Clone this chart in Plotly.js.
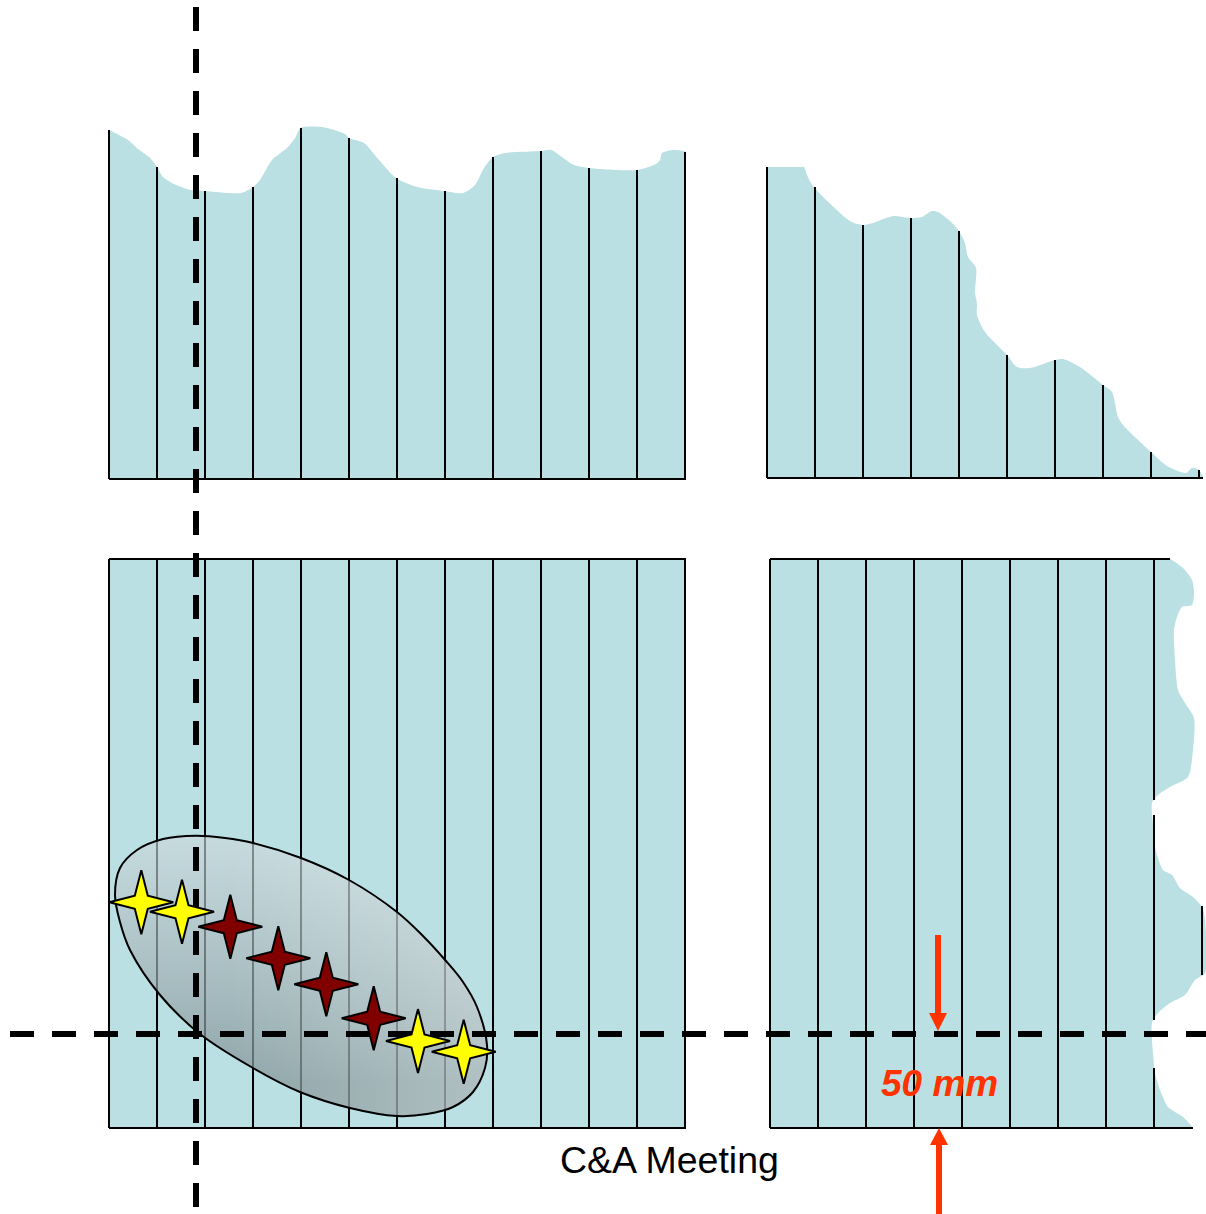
<!DOCTYPE html>
<html>
<head>
<meta charset="utf-8">
<script src="https://cdn.plot.ly/plotly-3.0.1.min.js"></script>
<style>html,body{margin:0;padding:0;background:#fff}#chart{width:1206px;height:1214px}</style>
</head>
<body>
<div id="chart"></div>
<script>
// The axes run in picture units.
var tlEdgeX = [109,115,128,138,149,156.5,163,176,191,205,241,253,260,272,287,295,300.5,322,345,349,364,379,396,417,444,463,475,484,493,505,541,551,574,589,637,656,660,662,674,686];
var tlEdgeY = [130,133,140,149,157,166,177,185,190,191,193,187,180,160,148,138,128,127,134,138,143,160,178,187,191,193,185,168,157,153,151,150,165,168,170,164,160,153,150,152];
var tlBase = 479;
var tlLineX = [109,157,205,253,301,349,397,445,493,541,589,637,685];
var tlLineTop = [130,167,191,187,128,138,178,191,157,151,168,170,152];

var trEdgeX = [767,769,802,804,807,813,850,863,873,893,911,922,932,938,950,959,965,968,976,975,977,977,985,1007,1017,1030,1055,1063,1080,1103,1112,1118,1123,1151,1167,1186,1192,1198,1203];
var trEdgeY = [167,167,167,167,175,186,221,225,223,216,218,217,211,212,221,231,243,257,268,293,303,315,332,355,367,368,360,359,367,385,392,417,425,452,466,473,468,469,477];
var trBase = 478;
var trLineX = [767,815,863,911,959,1007,1055,1103,1151,1199];
var trLineTop = [167,187,225,218,231,355,360,385,452,470];

var blLeft = 109, blRight = 686, lowTop = 559, lowBase = 1128;
var blLineX = [109,157,205,253,301,349,397,445,493,541,589,637,685];

var brEdgeX = [770,772,1168,1170,1183,1192,1194,1192,1182,1177,1174,1175,1178,1185,1194,1193,1188,1170,1158,1152,1154,1155,1163,1172,1180,1193,1202,1205,1205,1195,1185,1170,1158,1152,1153,1155,1160,1168,1183,1193,1191,772,770,770,770];
var brEdgeY = [559,559,559,559,568,580,592,605,607,617,630,660,690,703,718,750,777,787,795,803,833,847,870,875,888,897,907,920,973,980,995,1003,1013,1023,1053,1073,1090,1107,1117,1128,1128,1128,1128,1126,561];
var brLineX = [770,818,866,914,962,1010,1058,1106];
var brSegX = [1154,1154,1154,1202];
var brSegTop = [559,815,1068,906];
var brSegEnd = [800,1020,1128,975];
var brTopEnd = 1170, brBaseEnd = 1193, brLeft = 770;

var ovalX = [196,225,253,301,349,397,422,446,463,477,487,485,473,453,427,397,350,300,253,200,160,130,120,115,120,137,163,196];
var ovalY = [835.7,838,843,858,880,912,935,961,982,1007,1045,1068,1092,1107,1114,1116,1108,1092,1068,1034,995,950,922,895,868,850,839,835.7];

var dashHX = [10,1206], dashHY = [1034,1034];
var dashVX = [196,196], dashVY = [7,1208];

var yellowStarX = [141.3,182,418,463.7];
var yellowStarY = [902.3,911.7,1041,1051.7];
var redStarX = [230.3,278.3,326.3,373.7];
var redStarY = [926.7,958.3,984.3,1018.3];
var starDX = [0,6.5,32,6.5,0,-6.5,-32,-6.5,0];
var starDY = [-32,-6.5,0,6.5,32,6.5,0,-6.5,-32];

var downShaftX = [938,938], downShaftY = [935,1014];
var downHeadX = [929,947,938,929], downHeadY = [1013,1013,1031,1013];
var upShaftX = [939,939], upShaftY = [1144,1214];
var upHeadX = [930,948,939,930], upHeadY = [1145,1145,1128,1145];

var captionText = 'C&amp;A Meeting', captionX = 669, captionY = 1160;
var sizeText = '<b><i>50 mm</i></b>', sizeX = 939.5, sizeY = 1083;

var LINE = '#000000', PANEL = '#bbe0e3', ARROW = '#ff3300';

function closedPanel(xs, ys, base) {
  var xe = xs[xs.length-1], x0 = xs[0], ye = ys[ys.length-1], y0 = ys[0];
  return {
    x: xs.concat([xe, xe, xe, xe-2, x0+2, x0, x0, x0, x0]),
    y: ys.concat([ye+4, base-2, base, base, base, base, base-2, y0+4, y0])
  };
}
function fence(xs, tops, ends) {
  var x = [], y = [];
  xs.forEach(function(v,i){ x.push(v,v,null); y.push(tops[i], Array.isArray(ends)?ends[i]:ends, null); });
  return {x:x, y:y};
}
function stars(cx, cy) {
  var x = [], y = [];
  cx.forEach(function(c,i){
    starDX.forEach(function(d,k){ x.push(c+d); y.push(cy[i]+starDY[k]); });
    x.push(null); y.push(null);
  });
  return {x:x, y:y};
}
function panelTrace(p,smooth){ return {x:p.x,y:p.y,mode:'lines',fill:'toself',fillcolor:PANEL,line:{width:0,color:PANEL,shape:smooth?'spline':'linear',smoothing:0.7},hoverinfo:'skip'}; }
function lineTrace(p,w,dash,color){ return {x:p.x,y:p.y,mode:'lines',connectgaps:false,line:{width:w,color:color||LINE,dash:dash||'solid'},hoverinfo:'skip'}; }
function polyTrace(x,y,fill,lw){ return {x:x,y:y,mode:'lines',fill:'toself',fillcolor:fill,line:{width:lw,color:lw?LINE:fill},hoverinfo:'skip'}; }

var tl = closedPanel(tlEdgeX, tlEdgeY, tlBase);
var tr = closedPanel(trEdgeX, trEdgeY, trBase);
var blRect = {x:[blLeft,blRight,blRight,blLeft,blLeft], y:[lowTop,lowTop,lowBase,lowBase,lowTop]};
var ys = stars(yellowStarX, yellowStarY), rs = stars(redStarX, redStarY);

var traces = [
  panelTrace(tl,true), panelTrace(tr,true), panelTrace(blRect,false), panelTrace({x:brEdgeX,y:brEdgeY},true),
  lineTrace(fence(tlLineX, tlLineTop, tlBase),2),
  lineTrace(fence(trLineX, trLineTop, trBase),2),
  lineTrace(fence(blLineX, blLineX.map(function(){return lowTop;}), lowBase),2),
  lineTrace(fence(brLineX, brLineX.map(function(){return lowTop;}), lowBase),2),
  lineTrace(fence(brSegX, brSegTop, brSegEnd),2),
  lineTrace({x:[tlLineX[0],blRight],y:[tlBase,tlBase]},2),
  lineTrace({x:[trLineX[0],trEdgeX[trEdgeX.length-1]],y:[trBase,trBase]},2),
  lineTrace({x:[blLeft,blRight,null,blLeft,blRight],y:[lowTop,lowTop,null,lowBase,lowBase]},2),
  lineTrace({x:[brLeft,brTopEnd,null,brLeft,brBaseEnd],y:[lowTop,lowTop,null,lowBase,lowBase]},2),
  {x:ovalX,y:ovalY,mode:'lines',fill:'toself',
   fillgradient:{type:'vertical',colorscale:[[0,'rgba(125,142,146,0.72)'],[0.12,'rgba(125,142,146,0.72)'],[1,'rgba(205,216,220,0.62)']]},
   line:{width:0,color:LINE,shape:'spline',smoothing:1},hoverinfo:'skip'},
  {x:ovalX,y:ovalY,mode:'lines',fill:'toself',
   fillgradient:{type:'horizontal',colorscale:[[0,'rgba(255,255,255,0)'],[0.3,'rgba(255,255,255,0)'],[1,'rgba(255,255,255,0.3)']]},
   line:{width:2,color:LINE,shape:'spline',smoothing:1},hoverinfo:'skip'},
  lineTrace({x:dashHX,y:dashHY},6,'24px,18px'),
  lineTrace({x:dashVX,y:dashVY},6,'24px,18px'),
  polyTrace(ys.x,ys.y,'#ffff00',2),
  polyTrace(rs.x,rs.y,'#800000',2),
  lineTrace({x:downShaftX,y:downShaftY},6,null,ARROW),
  polyTrace(downHeadX,downHeadY,ARROW,0),
  lineTrace({x:upShaftX,y:upShaftY},6,null,ARROW),
  polyTrace(upHeadX,upHeadY,ARROW,0)
];

var layout = {
  width:1206, height:1214,
  margin:{l:0,r:0,t:0,b:0,pad:0},
  paper_bgcolor:'#ffffff', plot_bgcolor:'#ffffff',
  showlegend:false,
  xaxis:{range:[0,1206],visible:false,fixedrange:true},
  yaxis:{range:[1214,0],visible:false,fixedrange:true},
  annotations:[
    {x:captionX,y:captionY,xref:'x',yref:'y',text:captionText,showarrow:false,xanchor:'center',yanchor:'middle',
     font:{family:'Liberation Sans, Arial, sans-serif',size:37.5,color:'#000000'}},
    {x:sizeX,y:sizeY,xref:'x',yref:'y',text:sizeText,showarrow:false,xanchor:'center',yanchor:'middle',
     font:{family:'Liberation Sans, Arial, sans-serif',size:37,color:ARROW}}
  ]
};
Plotly.newPlot('chart', traces, layout, {displayModeBar:false, staticPlot:true});
</script>
</body>
</html>
